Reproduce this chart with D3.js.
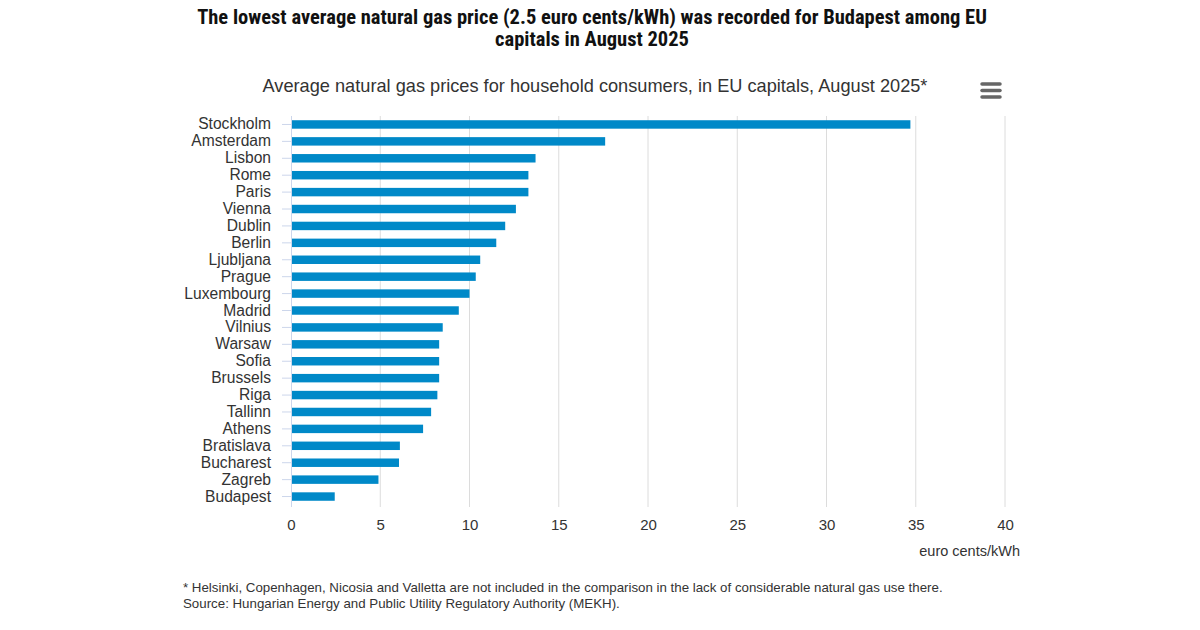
<!DOCTYPE html>
<html>
<head>
<meta charset="utf-8">
<script src="https://cdn.jsdelivr.net/npm/d3@7"></script>
<style>
  body { margin: 0; background: #fff; }
  svg { display: block; }
</style>
</head>
<body>
<svg id="chart" width="1200" height="630"></svg>
<script>
// capitals, top to bottom
var cities = ['Stockholm', 'Amsterdam', 'Lisbon', 'Rome', 'Paris', 'Vienna', 'Dublin', 'Berlin',
    'Ljubljana', 'Prague', 'Luxembourg', 'Madrid', 'Vilnius', 'Warsaw', 'Sofia', 'Brussels',
    'Riga', 'Tallinn', 'Athens', 'Bratislava', 'Bucharest', 'Zagreb', 'Budapest'];
// euro cents/kWh
var prices = [34.7, 17.6, 13.7, 13.3, 13.3, 12.6, 12.0, 11.5,
    10.6, 10.35, 10.0, 9.4, 8.5, 8.3, 8.3, 8.3,
    8.2, 7.85, 7.4, 6.1, 6.05, 4.9, 2.45];
var xTicks = [0, 5, 10, 15, 20, 25, 30, 35, 40];

var titleLines = ['The lowest average natural gas price (2.5 euro cents/kWh) was recorded for Budapest among EU',
    'capitals in August 2025'];
var subtitle = 'Average natural gas prices for household consumers, in EU capitals, August 2025*';
var notes = ['* Helsinki, Copenhagen, Nicosia and Valletta are not included in the comparison in the lack of considerable natural gas use there.',
    'Source: Hungarian Energy and Public Utility Regulatory Authority (MEKH).'];

var svg = d3.select('#chart');
var font = '"Liberation Sans", Arial, sans-serif';
// plot area (top is a window property, so other names)
var plotLeft = 291, plotRight = 1005, plotTop = 116, plotBottom = 505;

var x = d3.scaleLinear().domain([0, 40]).range([plotLeft, plotRight]);
var y = d3.scaleBand().domain(cities).range([plotTop, plotBottom]).paddingInner(0.5).paddingOuter(0.25);

// titles
svg.append('g').selectAll('text').data(titleLines).enter().append('text')
    .attr('x', 592).attr('y', function(d, i) { return 24 + i * 22; })
    .attr('text-anchor', 'middle')
    .style('font-family', '"Roboto Condensed", "Liberation Sans Narrow", ' + font)
    .style('font-weight', 'bold').style('font-size', '20.5px').style('fill', '#111')
    .text(function(d) { return d; });

svg.append('text')
    .attr('x', 595).attr('y', 92).attr('text-anchor', 'middle')
    .style('font-family', font)
    .style('font-size', '18.2px').style('fill', '#333')
    .text(subtitle);

// menu button
svg.append('g').selectAll('line').data([0, 1, 2]).enter().append('line')
    .attr('x1', 982).attr('x2', 1000)
    .attr('y1', function(d) { return 84 + d * 6.5; }).attr('y2', function(d) { return 84 + d * 6.5; })
    .style('stroke', '#666').style('stroke-width', 3.5).style('stroke-linecap', 'round');

// grid
svg.append('g').selectAll('line').data(xTicks.slice(1)).enter().append('line')
    .attr('x1', function(d) { return x(d); }).attr('x2', function(d) { return x(d); })
    .attr('y1', plotTop).attr('y2', plotBottom + 2)
    .style('stroke', '#dcdcdc').style('stroke-width', 1);

// bars
svg.append('g').selectAll('rect').data(cities).enter().append('rect')
    .attr('x', x(0))
    .attr('y', function(d) { return y(d); })
    .attr('width', function(d, i) { return x(prices[i]) - x(0); })
    .attr('height', y.bandwidth())
    .style('fill', '#0089c8');

// y axis
var yAxis = svg.append('g').attr('transform', 'translate(' + plotLeft + ',0)')
    .call(d3.axisLeft(y).tickSize(9).tickPadding(11));
yAxis.select('.domain').style('stroke', '#ccd6eb').attr('d', 'M0.5,' + plotTop + 'V' + (plotBottom + 2));
yAxis.selectAll('.tick line').style('stroke', '#ccd6eb');
yAxis.selectAll('text').style('font-family', font).style('font-size', '15.6px').style('fill', '#333');

// x axis labels
var xAxis = svg.append('g').attr('transform', 'translate(0,' + plotBottom + ')')
    .call(d3.axisBottom(x).tickValues(xTicks).tickSize(0).tickPadding(14));
xAxis.select('.domain').remove();
xAxis.selectAll('text').style('font-family', font)
    .style('font-size', '15px').style('fill', '#333');

svg.append('text')
    .attr('x', 1020).attr('y', 556).attr('text-anchor', 'end')
    .style('font-family', font)
    .style('font-size', '14.5px').style('fill', '#333')
    .text('euro cents/kWh');

// footnotes
svg.append('g').selectAll('text').data(notes).enter().append('text')
    .attr('x', 183).attr('y', function(d, i) { return 592 + i * 16; })
    .style('font-family', font)
    .style('font-size', '13.3px').style('fill', '#333')
    .text(function(d) { return d; });
</script>
</body>
</html>
